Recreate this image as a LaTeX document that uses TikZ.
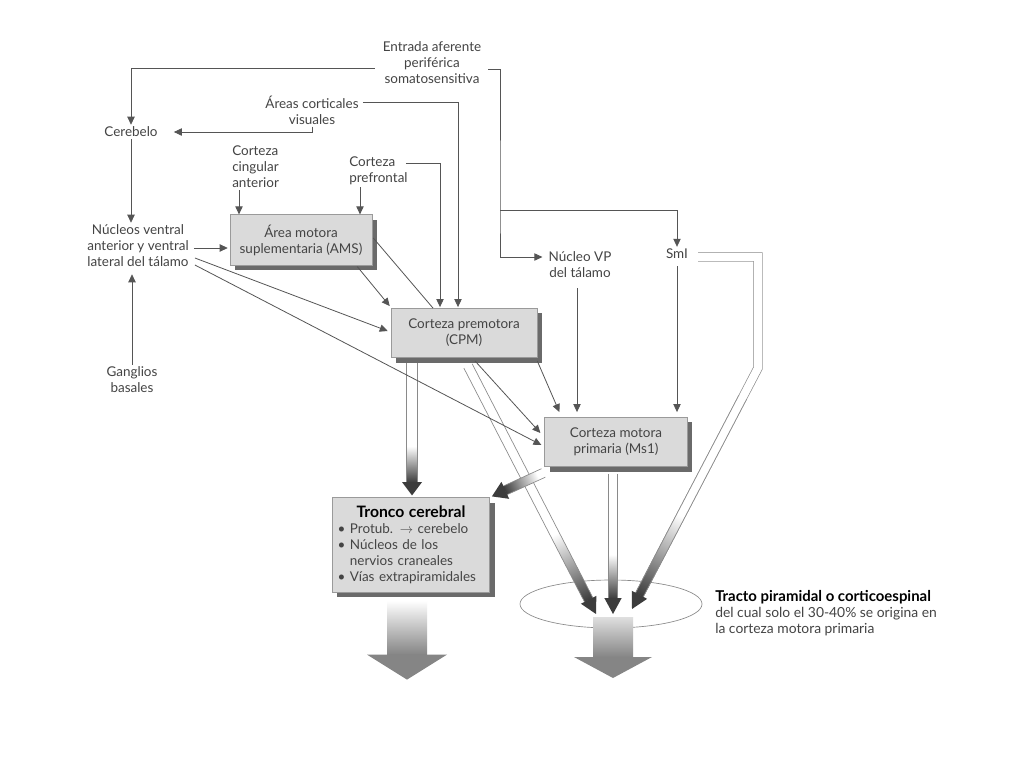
\documentclass[tikz,border=0pt]{standalone}
\usepackage{fontspec}
\setmainfont{Lato}
\usetikzlibrary{arrows.meta,shadows,shapes.geometric,calc}
\definecolor{txt}{HTML}{444444}
\definecolor{lnc}{HTML}{555555}
\definecolor{boxfill}{HTML}{DADADA}
\definecolor{boxline}{HTML}{9A9A9A}
\definecolor{shadowc}{HTML}{6A6A6A}
\definecolor{headc}{HTML}{3C3C3C}
\definecolor{sidec}{HTML}{8A8A8A}
\definecolor{bigc}{HTML}{858585}
\newcommand\hollowarrow[6]{%
  \path (#1); \pgfgetlastxy{\hax}{\hay}%
  \path (#2); \pgfgetlastxy{\hbx}{\hby}%
  \pgfmathsetmacro\hang{atan2(\hby-\hay,\hbx-\hax)}%
  \pgfmathsetmacro\hlen{veclen(\hbx-\hax,\hby-\hay)}%
  \pgfmathsetmacro\hshaft{\hlen-#5}%
  \pgfmathsetmacro\hfade{#6*\hshaft}%
  \begin{scope}[transform canvas={shift={(\hax,\hay)},rotate=\hang}]
    \fill[white] (0pt,-#3) rectangle (\hfade pt,#3);
    \shade[left color=white,right color=headc] (\hfade pt,-#3) rectangle (\hshaft pt+0.3pt,#3);
    \draw[sidec,line width=0.5pt] (0pt,#3) -- (\hshaft pt,#3) (0pt,-#3) -- (\hshaft pt,-#3);
    \fill[headc] (\hshaft pt,#4) -- (\hlen pt,0pt) -- (\hshaft pt,-#4) -- cycle;
  \end{scope}}
\begin{document}
\begin{tikzpicture}[x=0.75pt,y=-0.75pt,
  every node/.style={font=\fontsize{10.1}{12}\selectfont, text=txt, inner sep=1.5pt},
  lbl/.style={align=center},
  mbox/.style={draw=boxline, fill=boxfill, line width=0.4pt, align=center,
    drop shadow={shadow xshift=3.75pt, shadow yshift=-3.75pt, fill=shadowc, opacity=1}},
  arr/.style={draw=lnc, line width=0.6pt, -{Triangle[length=6pt,width=5.5pt]}},
  ln/.style={draw=lnc, line width=0.6pt}]
\useasboundingbox[fill=white] (0,0) rectangle (1024,768);

% text nodes
\node[lbl] (entrada) at (432,63) {Entrada aferente\\periférica\\somatosensitiva};
\node[lbl] (areas) at (312,110) {Áreas corticales\\visuales};
\node (cerebelo) at (131,132) {Cerebelo};
\node[anchor=west, align=left] (cingular) at (230,167) {Corteza\\cingular\\anterior};
\node[anchor=west, align=left] (prefrontal) at (347,171) {Corteza\\prefrontal};
\node[lbl] (nucleos) at (138,246) {Núcleos ventral\\anterior y ventral\\lateral del tálamo};
\node[lbl] (ganglios) at (132,380) {Ganglios\\basales};
\node[lbl] (nucleovp) at (580,265) {Núcleo VP\\del tálamo};
\node (sml) at (677,254) {SmI};

% boxes
\node[mbox, minimum width=106.5pt, minimum height=38pt] (ams) at (301,240) {Área motora\\suplementaria (AMS)};
\node[mbox, minimum width=109.5pt, minimum height=37pt] (cpm) at (464,333) {Corteza premotora\\(CPM)};
\node[mbox, minimum width=107pt, minimum height=37pt] (ms1) at (616,442) {Corteza motora\\primaria (Ms1)};
\node[mbox, minimum width=118pt, minimum height=71pt, text width=110pt, inner xsep=4pt, align=left] (tronco) at (411,545)
  {\makebox[110pt]{\fontsize{11.8}{12}\selectfont\bfseries\color{black}Tronco cerebral}\\
   \textbullet\ Protub. $\rightarrow$ cerebelo\\
   \textbullet\ Núcleos de los\\
   \hphantom{\textbullet\ }nervios craneales\\
   \textbullet\ Vías extrapiramidales};

% tract ellipse and label
\node[draw=sidec, line width=0.5pt, ellipse, minimum width=136.5pt, minimum height=36pt, inner sep=0pt] (tract) at (611,604) {};
\node[anchor=north west, align=left, font=\fontsize{10.4}{12}\selectfont] (tracto) at (713,588)
  {{\fontsize{11.2}{12}\selectfont\bfseries\color{black}Tracto piramidal o corticoespinal}\\
   del cual solo el 30-40\% se origina en\\la corteza motora primaria};

\coordinate (tipA) at ($(tract.center)+(-15,10)$);
\coordinate (tipB) at ($(tract.center)+(2,10)$);
\coordinate (tipC) at ($(tract.center)+(21,5)$);
\coordinate (c1) at (758,257);
\coordinate (c2) at (758,368);
\coordinate (ej) at (500,210);

% big bottom arrows
\shade[top color=white,bottom color=bigc] ($(tronco.south)+(-24,8)$) rectangle ($(tronco.south)+(16,62)$);
\fill[bigc] ($(tronco.south)+(-44,62)$) -- ($(tronco.south)+(36,62)$) -- ($(tronco.south)+(-4,87)$) -- cycle;
\shade[top color=gray!25,bottom color=bigc] ($(tract.center)+(-18,13)$) rectangle ($(tract.center)+(22,53)$);
\fill[bigc] ($(tract.center)+(-37,53)$) -- ($(tract.center)+(41,53)$) -- ($(tract.center)+(2,74)$) -- cycle;

% hollow arrows
\hollowarrow{$(cpm.south)+(-52,5)$}{$(tronco.north)+(1,-2)$}{4pt}{7.5pt}{10pt}{0.7}
\hollowarrow{$(cpm.south)+(4,8)$}{tipA}{3.5pt}{6.5pt}{12pt}{0.72}
\hollowarrow{$(ms1.south)+(-3,7)$}{tipB}{3.5pt}{6.5pt}{12pt}{0.65}
\draw[sidec, line width=0.5pt, double=white, double distance=6pt] ($(sml.east)+(8,3)$) -- (c1) -- (c2) -- ($(tipC)!11pt!(c2)$);
\hollowarrow{$(c2)!0.12!(tipC)$}{tipC}{3.25pt}{6.5pt}{12pt}{0.6}
\hollowarrow{$(ms1.south west)+(-1,6)$}{$(tronco.north east)+(2,-1)$}{3.5pt}{7pt}{11pt}{0.15}

% thin connectors
\draw[arr] ($(entrada.west)+(-6,5)$) -| (cerebelo.north);
\draw[arr] ($(entrada.east)+(5,6)$) -| (ej) |- ($(nucleovp.west)+(-4,-8)$);
\draw[arr] (ej) -| (sml.north);
\draw[arr] ($(areas.east)+(2,-8)$) -| ($(cpm.north)+(-6,-1)$);
\draw[arr] (areas.south) |- ($(cerebelo.east)+(14,0)$);
\draw[arr] (cerebelo.south) -- (cerebelo.south |- nucleos.north);
\draw[arr] (ganglios.north) -- ($(ganglios.north |- nucleos.south)+(0,5)$);
\draw[arr] ($(nucleos.east)+(3,2)$) -- ($(nucleos.east -| ams.west)+(-2,2)$);
\draw[arr] (239,0 |- cingular.south) -- (239,0 |- ams.north);
\draw[arr] (360,0 |- prefrontal.south) -- (360,0 |- ams.north);
\draw[arr] ($(prefrontal.east)+(-4,-8)$) -| ($(cpm.north)+(-24,-1)$);
\draw[ln] ($(ams.east)+(1,-2)$) -- ($(cpm.north)+(-31,0)$);
\draw[arr] ($(ams.south east)+(-15,1)$) -- ($(cpm.north west)+(-1,-2)$);
\draw[arr] ($(nucleos.east)+(4,12)$) -- ($(cpm.west)+(-3,-2)$);
\draw[arr] ($(nucleos.east)+(4,19)$) -- ($(ms1.west)+(-3,3)$);
\draw[arr] ($(cpm.south)+(11,3)$) -- ($(ms1.west)+(-4,-9)$);
\draw[arr] ($(cpm.south east)+(0,3)$) -- ($(ms1.north west)+(15,-5)$);
\draw[arr] ($(577,0 |- nucleovp.south)+(0,8)$) -- ($(577,0 |- ms1.north)+(0,-5)$);
\draw[arr] ($(sml.south)+(0,5)$) -- ($(sml.south |- ms1.north)+(0,-5)$);
\end{tikzpicture}
\end{document}
